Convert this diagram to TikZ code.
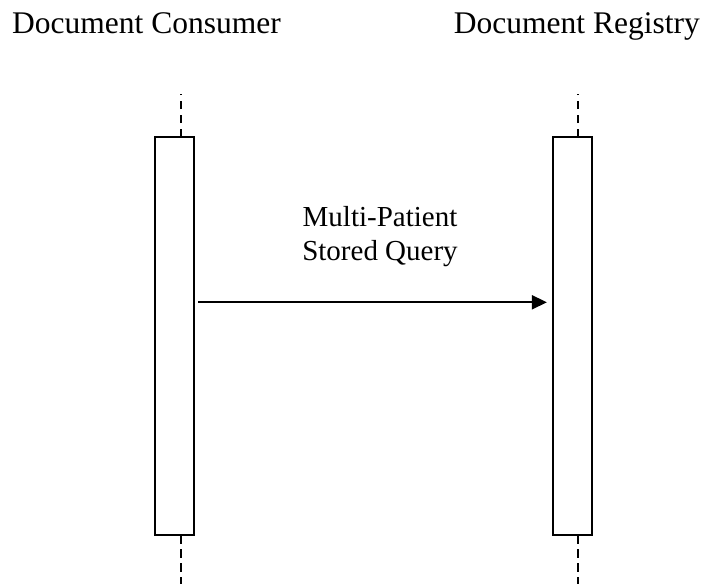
\documentclass[tikz,border=0pt]{standalone}
\usepackage{fontspec}
\setmainfont{Liberation Serif}
\usetikzlibrary{arrows.meta}
\begin{document}
\begin{tikzpicture}[x=1pt,y=-1pt,
  title/.style={inner sep=0pt,font=\fontsize{31.5}{36}\selectfont},
  msglabel/.style={inner sep=0pt,align=center,font=\fontsize{29}{33.3}\selectfont},
  lifebox/.style={draw,line width=2pt,minimum width=39pt,minimum height=398pt,inner sep=0pt,outer sep=0pt,fill=white},
  life/.style={line width=2pt,dash pattern=on 8.5pt off 5.5pt},
  msg/.style={line width=2pt,-{Triangle[length=15pt,width=14pt]}}]
\useasboundingbox (0,0) rectangle (705,584);
% titles
\node[title,anchor=base west] (cons) at (12,33) {Document Consumer};
\node[title,anchor=base east] (reg) at (700,33) {Document Registry};
% lifeline ends
\coordinate (ltop) at (180.7,94);
\coordinate (lbot) at (180.7,584);
\coordinate (rtop) at (577.7,94);
\coordinate (rbot) at (577.7,584);
% activation boxes
\node[lifebox] (lbox) at (174.8,336) {};
\node[lifebox] (rbox) at (572.4,336) {};
% dashed lifelines
\draw[life] (lbox.north -| ltop) -- (ltop);
\draw[life] (lbox.south -| lbot) -- (lbot);
\draw[life] (rbox.north -| rtop) -- (rtop);
\draw[life] (rbox.south -| rbot) -- (rbot);
% message
\coordinate (my) at (0,302.3);
\draw[msg] ([xshift=4pt]lbox.east |- my) -- ([xshift=-6pt]rbox.west |- my);
\node[msglabel] (lbl) at (380,236.7) {Multi-Patient\\Stored Query};
\end{tikzpicture}
\end{document}
